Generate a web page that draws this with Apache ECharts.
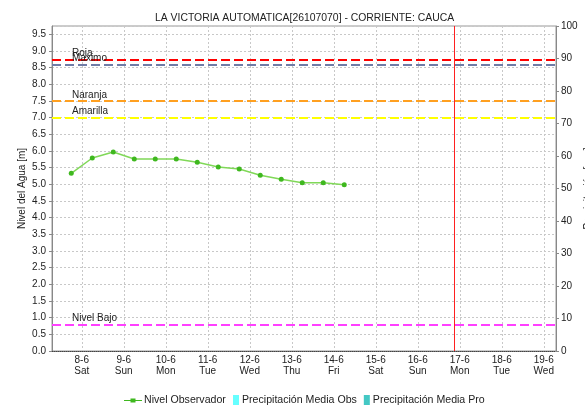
<!DOCTYPE html>
<html>
<head>
<meta charset="utf-8">
<script src="https://cdn.jsdelivr.net/npm/echarts@6/dist/echarts.min.js"></script>
<style>html,body{margin:0;padding:0;background:#fff;}#c{width:585px;height:405px;}</style>
</head>
<body>
<div id="c"></div>
<script>
var titleText = 'LA VICTORIA AUTOMATICA[26107070] - CORRIENTE: CAUCA';
var times = ['2024-06-07 18:00','2024-06-08 06:00','2024-06-08 18:00','2024-06-09 06:00','2024-06-09 18:00',
  '2024-06-10 06:00','2024-06-10 18:00','2024-06-11 06:00','2024-06-11 18:00','2024-06-12 06:00',
  '2024-06-12 18:00','2024-06-13 06:00','2024-06-13 18:00','2024-06-14 06:00'];
var nivel = [5.33,5.79,5.97,5.76,5.76,5.76,5.66,5.52,5.46,5.27,5.15,5.05,5.05,4.99];
var precipObs = [];
var precipPro = [];
var thresholdNames = ['Roja','Maximo','Naranja','Amarilla','Nivel Bajo'];
var thresholdValues = [8.75,8.6,7.5,7.0,0.8];
var thresholdColors = ['#ff0000','#6f7ca6','#ffa020','#ffff00','#ff40ff'];
var dayNames = ['Sun','Mon','Tue','Wed','Thu','Fri','Sat'];
var xMin = '2024-06-07 07:00', xMax = '2024-06-19 07:00';
var nowMark = '2024-06-16 21:00';

var font = 'Liberation Sans, Arial, sans-serif';
var mlData = thresholdValues.map(function(v,i){
  return {yAxis:v, name:thresholdNames[i],
    lineStyle:{color:thresholdColors[i], type:[9,4], width:2},
    label:{show:true, formatter:thresholdNames[i], position:'insideStartTop', distance:[20,1],
      color:'#222', fontSize:10, fontFamily:font}};
});

var chart = echarts.init(document.getElementById('c'), null, {renderer:'canvas'});
chart.setOption({
  animation:false,
  backgroundColor:'#fff',
  title:{text:titleText, left:150, top:8, textStyle:{fontSize:10.4, fontWeight:'normal', color:'#222', fontFamily:font}},
  grid:{left:52, right:29, top:26, bottom:54, show:true, borderColor:'#999', borderWidth:1, backgroundColor:'#fff',
        outerBoundsMode:'none', containLabel:false},
  legend:[
    {data:[{name:'Nivel Observador', icon:'path://M0,4.4h7v1.2h-7z M6.5,3h5v4h-5z M11,4.4h7v1.2h-7z'}],
     left:119, top:390, itemWidth:18, itemHeight:10, itemGap:8,
     textStyle:{fontSize:10.6, color:'#222', fontFamily:font, padding:[0,0,0,-3]}},
    {data:[{name:'Precipitación Media Obs', icon:'rect'},{name:'Precipitación Media Pro', icon:'rect'}],
     left:228, top:390, itemWidth:6, itemHeight:11, itemGap:7,
     textStyle:{fontSize:10.6, color:'#222', fontFamily:font, padding:[0,0,0,-2]}}
  ],
  xAxis:[
    {type:'time', min:xMin, max:xMax, minInterval:86400000, maxInterval:86400000,
    axisLine:{show:true, lineStyle:{color:'#444', type:[1,1], width:1}},
    axisTick:{show:false},
    axisLabel:{fontSize:10, color:'#222', fontFamily:font, margin:4, lineHeight:11,
      formatter:function(v){var d=new Date(v); return d.getDate()+'-'+(d.getMonth()+1)+'\n'+dayNames[d.getDay()];}},
    splitLine:{show:true, lineStyle:{color:'#c8c8c8', type:[2,2]}}
    },
    {type:'category', data:[], show:false}
  ],
  yAxis:[
    {type:'value', min:0, max:9.75, interval:0.5, name:'Nivel del Agua [m]', nameLocation:'middle', nameGap:25,
     nameMoveOverlap:false,
     nameTextStyle:{fontSize:10, color:'#222', fontFamily:font},
     axisLine:{show:true, lineStyle:{color:'#888'}},
     axisTick:{show:true, length:3, lineStyle:{color:'#888'}},
     axisLabel:{fontSize:10, color:'#222', fontFamily:font, margin:6, showMaxLabel:false,
       formatter:function(v){return v.toFixed(1);}},
     splitLine:{show:true, lineStyle:{color:'#c8c8c8', type:[2,2]}}
    },
    {type:'value', min:0, max:100, interval:10, name:'Precipitación [mm]', nameLocation:'middle', nameGap:27,
     nameMoveOverlap:false,
     nameTextStyle:{fontSize:10, color:'#222', fontFamily:font},
     axisLine:{show:true, lineStyle:{color:'#888'}},
     axisTick:{show:true, length:3, lineStyle:{color:'#888'}},
     axisLabel:{fontSize:10, color:'#222', fontFamily:font, margin:5},
     splitLine:{show:false}
    }
  ],
  series:[
    {name:'Nivel Observador', type:'line', xAxisIndex:0, yAxisIndex:0,
     data:times.map(function(t,i){return [t, nivel[i]];}),
     symbol:'circle', symbolSize:5, showSymbol:true,
     lineStyle:{color:'#80d858', width:1.5},
     itemStyle:{color:'#3fb81f'},
     markLine:{silent:true, symbol:['none','none'], animation:false, data:mlData}
    },
    {name:'ahora', type:'line', xAxisIndex:0, yAxisIndex:0, data:[],
     markLine:{silent:true, symbol:['none','none'], animation:false,
       lineStyle:{color:'#ff2020', type:'solid', width:1}, label:{show:false},
       data:[{xAxis:nowMark}]}
    },
    {name:'Precipitación Media Obs', type:'bar', xAxisIndex:1, yAxisIndex:1, data:precipObs, itemStyle:{color:'#66ffff'}},
    {name:'Precipitación Media Pro', type:'bar', xAxisIndex:1, yAxisIndex:1, data:precipPro, itemStyle:{color:'#44c8c4'}}
  ]
});
</script>
</body>
</html>
